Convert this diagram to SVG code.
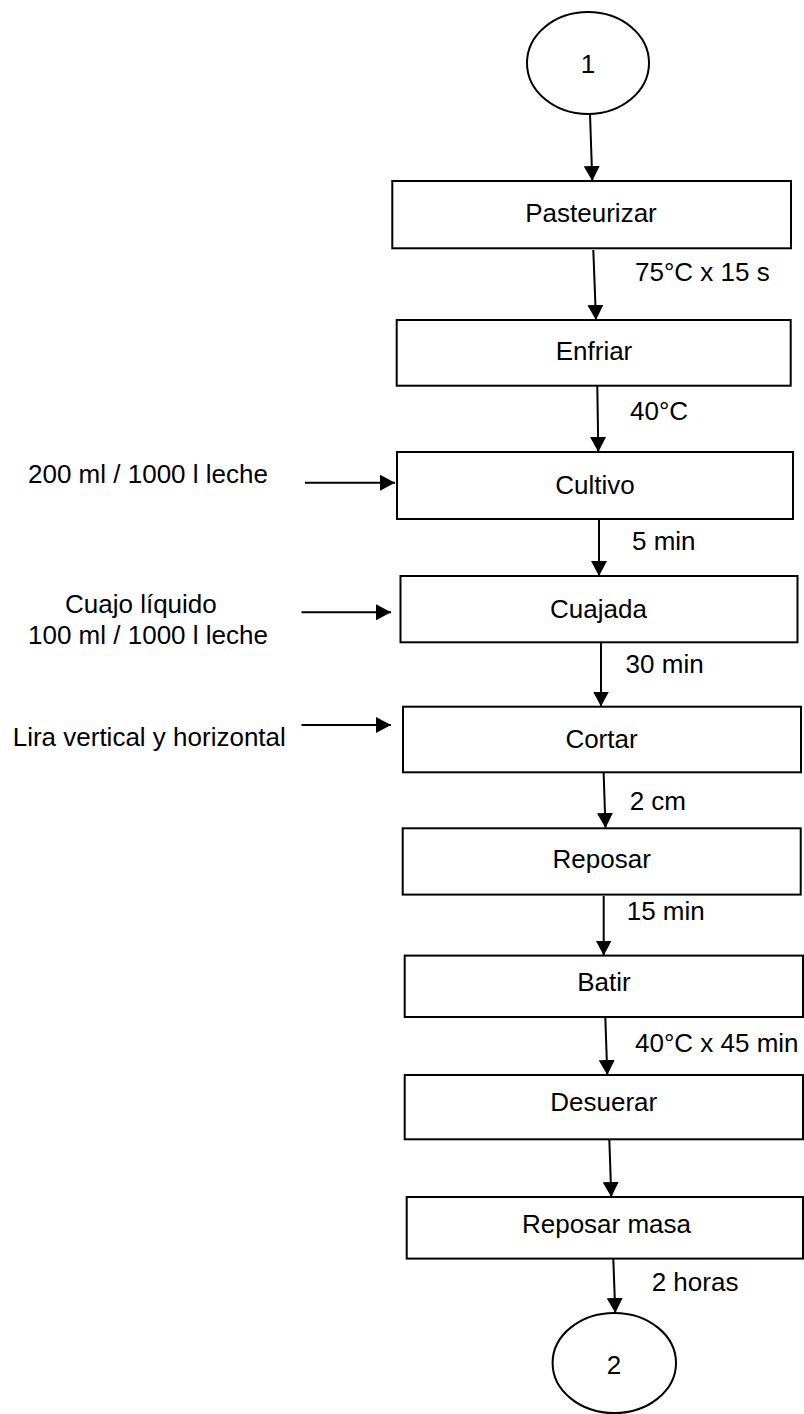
<svg xmlns="http://www.w3.org/2000/svg" width="804" height="1414" viewBox="0 0 804 1414">
<style>
.box{fill:#fff;stroke:#000;stroke-width:2}
.t{font-family:"Liberation Sans",Arial,sans-serif;font-size:26px;fill:#000}
.c{text-anchor:middle}
.ar{stroke:#000;stroke-width:2;fill:none;marker-end:url(#ah)}
</style>
<defs>
<marker id="ah" markerUnits="userSpaceOnUse" markerWidth="15" markerHeight="16" refX="15" refY="8" orient="auto">
<path d="M0,0 L15,8 L0,16 z" fill="#000"/>
</marker>
</defs>
<rect width="804" height="1414" fill="#fff"/>
<g id="connectors">
<line class="ar" x1="590" y1="114" x2="592.3" y2="181"/>
<line class="ar" x1="593.3" y1="250" x2="596" y2="320"/>
<line class="ar" x1="597.3" y1="386" x2="598.3" y2="452"/>
<line class="ar" x1="599" y1="519" x2="599" y2="576"/>
<line class="ar" x1="601" y1="643" x2="601" y2="706.5"/>
<line class="ar" x1="603.6" y1="772" x2="605.5" y2="828"/>
<line class="ar" x1="603.7" y1="896" x2="603.7" y2="955.5"/>
<line class="ar" x1="605.3" y1="1017" x2="607.3" y2="1075"/>
<line class="ar" x1="609.3" y1="1139" x2="611.3" y2="1197"/>
<line class="ar" x1="613.3" y1="1259" x2="615.3" y2="1313"/>
<line class="ar" x1="305" y1="482.7" x2="395" y2="482.7"/>
<line class="ar" x1="301.5" y1="612.3" x2="391" y2="612.3"/>
<line class="ar" x1="301.5" y1="725" x2="391" y2="725"/>
</g>
<g id="n1">
<ellipse cx="588" cy="63" rx="61" ry="51" fill="#fff" stroke="#000" stroke-width="2"/>
<text class="t c" x="588" y="72.5">1</text>
</g>
<g id="pasteurizar">
<rect class="box" x="392.3" y="181" width="398.7" height="67.3"/>
<text class="t c" x="591" y="221.7">Pasteurizar</text>
</g>
<text class="t" x="635" y="281">75°C x 15 s</text>
<g id="enfriar">
<rect class="box" x="396.7" y="320" width="394" height="65.7"/>
<text class="t c" x="594" y="360">Enfriar</text>
</g>
<text class="t" x="630" y="420">40°C</text>
<g id="cultivo">
<rect class="box" x="397" y="452" width="396" height="67"/>
<text class="t c" x="595" y="494">Cultivo</text>
</g>
<text class="t" x="28" y="482.7">200 ml / 1000 l leche</text>
<text class="t" x="632" y="550">5 min</text>
<g id="cuajada">
<rect class="box" x="400.5" y="576" width="397" height="66.3"/>
<text class="t c" x="598.5" y="618.3">Cuajada</text>
</g>
<text class="t" x="65" y="612.7">Cuajo líquido</text>
<text class="t" x="28" y="644">100 ml / 1000 l leche</text>
<text class="t" x="625.6" y="673.3">30 min</text>
<g id="cortar">
<rect class="box" x="403" y="706.7" width="398" height="65.6"/>
<text class="t c" x="601.5" y="748.3">Cortar</text>
</g>
<text class="t" x="12.7" y="746">Lira vertical y horizontal</text>
<text class="t" x="629.7" y="810">2 cm</text>
<g id="reposar">
<rect class="box" x="402.7" y="828.3" width="398" height="66.3"/>
<text class="t c" x="601.7" y="868">Reposar</text>
</g>
<text class="t" x="626.7" y="920.4">15 min</text>
<g id="batir">
<rect class="box" x="404.7" y="955.6" width="398.3" height="61.4"/>
<text class="t c" x="604" y="990.5">Batir</text>
</g>
<text class="t" x="635" y="1051.7">40°C x 45 min</text>
<g id="desuerar">
<rect class="box" x="404.7" y="1075" width="398.3" height="64.3"/>
<text class="t c" x="603.7" y="1111">Desuerar</text>
</g>
<g id="reposar-masa">
<rect class="box" x="406.7" y="1197" width="396.3" height="61.6"/>
<text class="t c" x="606.5" y="1233.3">Reposar masa</text>
</g>
<text class="t" x="651.7" y="1290.7">2 horas</text>
<g id="n2">
<ellipse cx="614.3" cy="1363" rx="61.7" ry="50" fill="#fff" stroke="#000" stroke-width="2"/>
<text class="t c" x="614" y="1374">2</text>
</g>
</svg>
